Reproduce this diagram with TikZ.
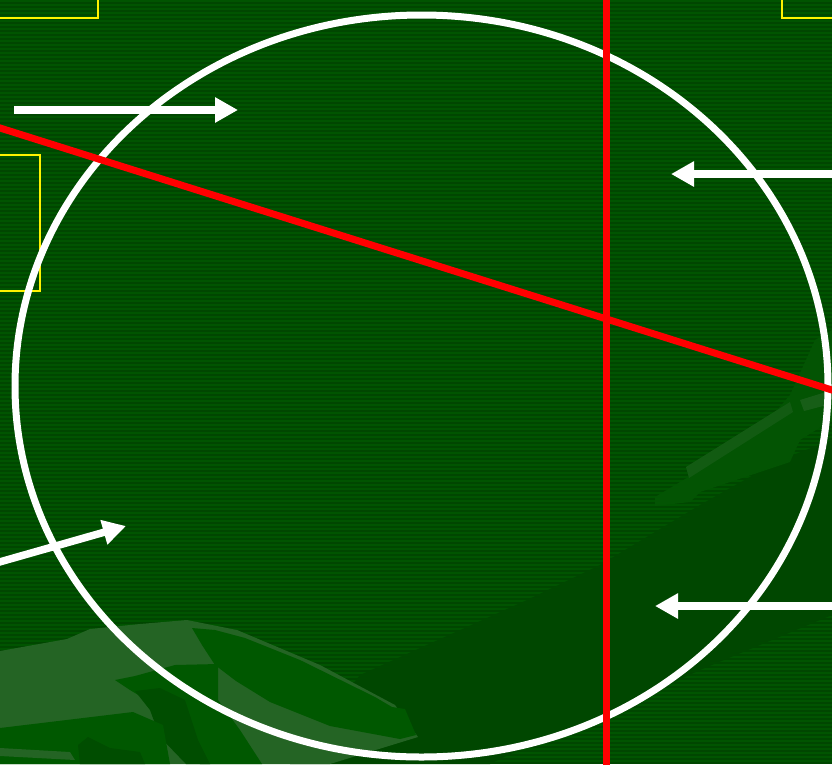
\documentclass[tikz,border=0pt]{standalone}
\usetikzlibrary{arrows.meta}
\definecolor{bgl}{HTML}{005400}
\definecolor{bgd}{HTML}{004600}
\definecolor{band}{HTML}{004700}
\definecolor{leafl}{HTML}{246424}
\definecolor{leafm}{HTML}{005800}
\definecolor{leafd}{HTML}{004D00}
\definecolor{leafs}{HTML}{035403}
\tikzset{
  whitearrow/.style={draw=white, line width=7.5pt, -{Triangle[length=23pt,width=24pt]}},
  redline/.style={draw=red, line width=7pt},
  ybox/.style={draw=yellow, line width=1.6pt},
}
\begin{document}
\begin{tikzpicture}[x=1pt,y=-1pt]
\useasboundingbox (0,0) rectangle (832,764);
% background with stripes
\fill[bgl] (0,0) rectangle (832,764);
\foreach \k in {0,...,190} {
  \fill[bgd] (0,{4*\k+2}) rectangle (832,{4*\k+4});
}
% dark diagonal band
\fill[band] (290,764) -- (360,675) -- (527,600) -- (600,565) -- (700,505) -- (780,460) -- (832,440)
  -- (832,615) -- (700,670) -- (600,717) -- (533,743) -- (490,764) -- cycle;
% right leaf
\fill[leafs] (655,497) -- (700,470) -- (760,430) -- (790,395) -- (815,340) -- (832,330)
  -- (832,420) -- (800,440) -- (790,462) -- (760,472) -- (700,492) -- (690,502) -- (655,506) -- cycle;
\fill[leafl!45!leafs] (686,467) -- (790,402) -- (793,412) -- (689,478) -- cycle;
\fill[leafl!60!leafs] (800,400) -- (826,392) -- (827,405) -- (804,411) -- cycle;
% bottom-left leaves
\fill[leafl] (0,651) -- (67,639) -- (90,629) -- (140,624) -- (187,620) -- (237,630) -- (320,665)
  -- (395,705) -- (418,737) -- (330,764) -- (0,764) -- cycle;
\fill[leafm] (192,628) -- (215,630) -- (245,638) -- (300,660) -- (375,697) -- (392,707) -- (405,709)
  -- (416,735) -- (400,739) -- (330,726) -- (270,702) -- (236,681) -- (215,665) -- (202,645) -- cycle;
\fill[leafm] (115,680) -- (135,676) -- (175,665) -- (218,664) -- (218,700) -- (240,730) -- (262,764)
  -- (200,764) -- (168,742) -- (163,722) -- (150,702) -- (130,690) -- cycle;
\fill[leafd] (135,691) -- (160,688) -- (185,700) -- (198,740) -- (210,764) -- (186,764) -- (160,737) -- (150,710) -- cycle;
\fill[leafm] (0,728) -- (133,712) -- (163,725) -- (170,764) -- (0,764) -- cycle;
\fill[leafd] (78,745) -- (88,737) -- (110,748) -- (140,752) -- (145,764) -- (80,764) -- cycle;
\fill[leafl] (0,748) -- (70,752) -- (75,760) -- (0,756) -- cycle;
% yellow boxes
\draw[ybox] (-2,-2) rectangle (98,18);
\draw[ybox] (-2,155) rectangle (40,291);
\draw[ybox] (782,-2) rectangle (834,18);
% ellipse
\coordinate (e) at (421.5,386);
\draw[white, line width=7pt] (e) ellipse [x radius=406.5pt, y radius=371pt];
% red lines
\coordinate (v1) at (606,-5);
\coordinate (v2) at (606,770);
\coordinate (d1) at (-5,126.4);
\coordinate (d2) at (837,391.6);
\draw[redline] (v1) -- (v2);
\draw[redline] (d1) -- (d2);
% arrows
\coordinate (a1s) at (14,110);   \coordinate (a1e) at (238,110);
\coordinate (a2s) at (836,174);  \coordinate (a2e) at (671,174);
\coordinate (a3s) at (-4,563);   \coordinate (a3e) at (126,526);
\coordinate (a4s) at (836,606);  \coordinate (a4e) at (655,606);
\draw[whitearrow] (a1s) -- (a1e);
\draw[whitearrow] (a2s) -- (a2e);
\draw[whitearrow] (a3s) -- (a3e);
\draw[whitearrow] (a4s) -- (a4e);
\end{tikzpicture}
\end{document}
